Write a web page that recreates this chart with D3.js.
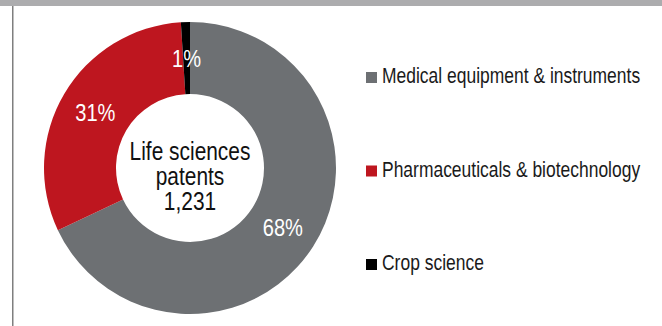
<!DOCTYPE html>
<html>
<head>
<meta charset="utf-8">
<script src="https://cdn.jsdelivr.net/npm/d3@7"></script>
<style>
  html, body { margin: 0; padding: 0; background: #fff; }
  svg { display: block; }
  text { font-family: "Liberation Sans", Arial, sans-serif; }
</style>
</head>
<body>
<svg id="chart" width="662" height="326"></svg>
<script>
// Life sciences patents by field
const categories = ["Medical equipment & instruments", "Pharmaceuticals & biotechnology", "Crop science"];
const shares = [68, 31, 1];
const colors = ["#6d7073", "#be161f", "#000000"];
const totalLabel = ["Life sciences", "patents", "1,231"];

const W = 662, H = 326;
const narrow = "scale(0.82,1)"; // condensed look for the sans face
const svg = d3.select("#chart");

// frame: grey band on top, thin rule on the left
svg.append("rect").attr("x", 0).attr("y", 0).attr("width", W).attr("height", 6).attr("fill", "#acacae");
svg.append("rect").attr("x", 12).attr("y", 6).attr("width", 1.5).attr("height", H - 6).attr("fill", "#7f7f7f");

const cx = 190, cy = 168, outerR = 146, innerR = 74;

const pie = d3.pie().sort(null).value(d => d.value);
const arc = d3.arc().innerRadius(innerR).outerRadius(outerR);
const labelArc = d3.arc().innerRadius((innerR + outerR) / 2).outerRadius((innerR + outerR) / 2);

const data = categories.map((c, i) => ({ name: c, value: shares[i], color: colors[i] }));
const arcs = pie(data);

const g = svg.append("g").attr("transform", `translate(${cx},${cy})`);

g.selectAll("path.slice")
  .data(arcs)
  .join("path")
  .attr("class", "slice")
  .attr("d", arc)
  .attr("fill", d => d.data.color);

g.selectAll("text.pct")
  .data(arcs)
  .join("text")
  .attr("class", "pct")
  .attr("transform", d => `translate(${labelArc.centroid(d)}) ${narrow}`)
  .attr("text-anchor", "middle")
  .attr("dy", "0.36em")
  .attr("fill", "#ffffff")
  .attr("font-size", 24.5)
  .text(d => d.data.value + "%");

// total in the hole
g.selectAll("text.total")
  .data(totalLabel)
  .join("text")
  .attr("class", "total")
  .attr("transform", (d, i) => `translate(0,${-8 + i * 25}) ${narrow}`)
  .attr("text-anchor", "middle")
  .attr("fill", "#111111")
  .attr("font-size", 25.5)
  .text(d => d);

// legend
const legendY = d3.scalePoint().domain(categories).range([83, 270]);
const legend = svg.append("g");
const rows = legend.selectAll("g.row")
  .data(data)
  .join("g")
  .attr("class", "row")
  .attr("transform", d => `translate(366,${legendY(d.name)})`);

rows.append("rect")
  .attr("x", 0).attr("y", -11)
  .attr("width", 11).attr("height", 11)
  .attr("fill", d => d.color);

rows.append("text")
  .attr("transform", `translate(16,0) ${narrow}`)
  .attr("fill", "#1a1a1a")
  .attr("font-size", 21.3)
  .text(d => d.name);
</script>
</body>
</html>
